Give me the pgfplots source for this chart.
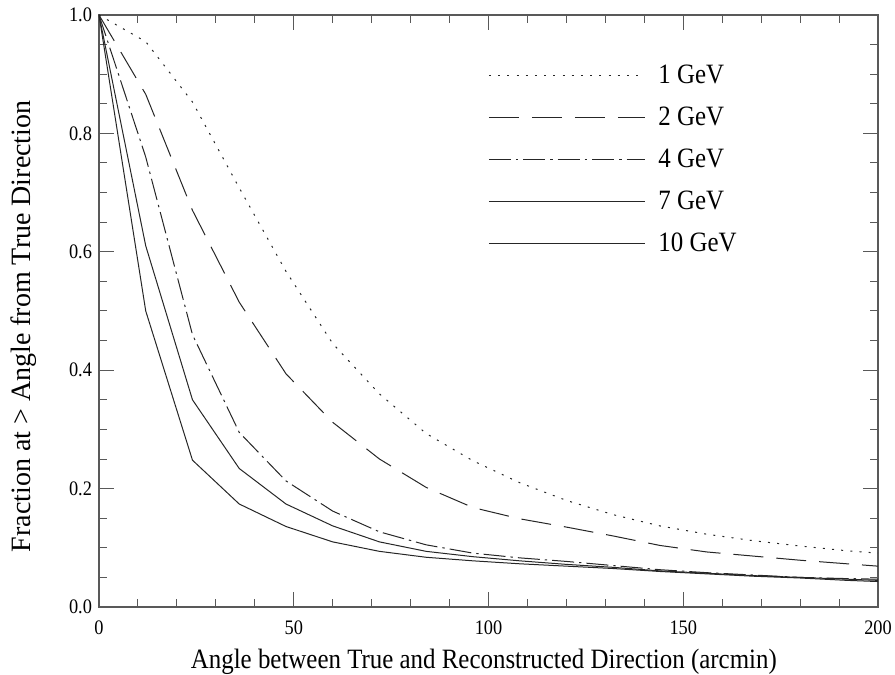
\documentclass[border=0pt]{standalone}
\usepackage{fontspec}
\setmainfont{Liberation Serif}
\newfontfamily\condfont[FakeStretch=0.89]{Liberation Serif}
\usepackage{pgfplots}
\pgfplotsset{compat=1.18}
\begin{document}
\begin{tikzpicture}
\begin{axis}[
  width=389.5pt, height=296pt, scale only axis,
  xmin=0, xmax=200, ymin=0, ymax=1,
  xtick={0,50,100,150,200}, minor x tick num=4,
  ytick={0,0.2,0.4,0.6,0.8,1.0}, minor y tick num=3,
  tick align=inside,
  major tick length=7.5pt, minor tick length=4.2pt,
  axis line style={draw=black!65, line width=0.6pt},
  every tick/.style={black!65, line width=0.5pt},
  /pgf/number format/assume math mode=true,
  yticklabel style={/pgf/number format/fixed, /pgf/number format/precision=1, /pgf/number format/fixed zerofill},
  tick label style={font=\condfont\fontsize{10.3}{11}\selectfont},
  xticklabel style={yshift=-3.2pt},
  xlabel={Angle between True and Reconstructed Direction (arcmin)},
  ylabel={Fraction at > Angle from True Direction},
  xlabel style={font=\condfont\fontsize{14}{15}\selectfont, at={(axis description cs:0.494,0)}, anchor=base, yshift=-30.5pt},
  ylabel style={font=\fontsize{14}{15}\selectfont, at={(axis description cs:-0.0963,0.474)}, anchor=center},
  legend style={at={(0.4994,0.9226)}, anchor=north west, draw=none, fill=none,
    font=\condfont\fontsize{14}{15}\selectfont, row sep=6.2pt, inner sep=0pt},
  legend cell align=left,
  legend image code/.code={\draw[#1] (0pt,0pt) -- (78pt,0pt); \path (82.5pt,0pt);},
  every axis plot/.append style={line width=0.5pt, black!85},
]
\addplot[dash pattern=on 1pt off 3.6pt] coordinates {
(0,1.0)(12,0.955)(24,0.853)(36,0.708)(48,0.567)(60,0.445)(72,0.36)(84,0.293)(96,0.247)(108,0.21)(120,0.18)(132,0.156)(144,0.137)(156,0.123)(168,0.112)(180,0.103)(192,0.095)(200,0.091)};
\addlegendentry{1 GeV}
\addplot[dash pattern=on 15pt off 6.5pt] coordinates {
(0,1.0)(12,0.866)(24,0.67)(36,0.515)(48,0.394)(60,0.312)(72,0.25)(84,0.202)(96,0.168)(108,0.149)(120,0.135)(132,0.12)(144,0.104)(156,0.093)(168,0.086)(180,0.079)(192,0.073)(200,0.069)};
\addlegendentry{2 GeV}
\addplot[dash pattern=on 11pt off 2.5pt on 1.2pt off 2.5pt] coordinates {
(0,1.0)(12,0.76)(24,0.46)(36,0.295)(48,0.213)(60,0.162)(72,0.127)(84,0.105)(96,0.091)(108,0.083)(120,0.077)(132,0.07)(144,0.063)(156,0.058)(168,0.054)(180,0.05)(192,0.048)(200,0.047)};
\addlegendentry{4 GeV}
\addplot[solid] coordinates {
(0,1.0)(12,0.61)(24,0.35)(36,0.234)(48,0.174)(60,0.137)(72,0.11)(84,0.094)(96,0.085)(108,0.078)(120,0.072)(132,0.067)(144,0.061)(156,0.057)(168,0.053)(180,0.05)(192,0.047)(200,0.045)};
\addlegendentry{7 GeV}
\addplot[solid] coordinates {
(0,1.0)(12,0.50)(24,0.248)(36,0.174)(48,0.136)(60,0.11)(72,0.094)(84,0.084)(96,0.078)(108,0.073)(120,0.069)(132,0.065)(144,0.06)(156,0.056)(168,0.052)(180,0.049)(192,0.045)(200,0.043)};
\addlegendentry{10 GeV}
\end{axis}
\pgfresetboundingbox
\path (current axis.south west) ++(-49.5pt,-34pt) coordinate (bbA);
\path (current axis.north east) ++(8.5pt,7.5pt) coordinate (bbB);
\path (bbA) rectangle (bbB);
\end{tikzpicture}
\end{document}
